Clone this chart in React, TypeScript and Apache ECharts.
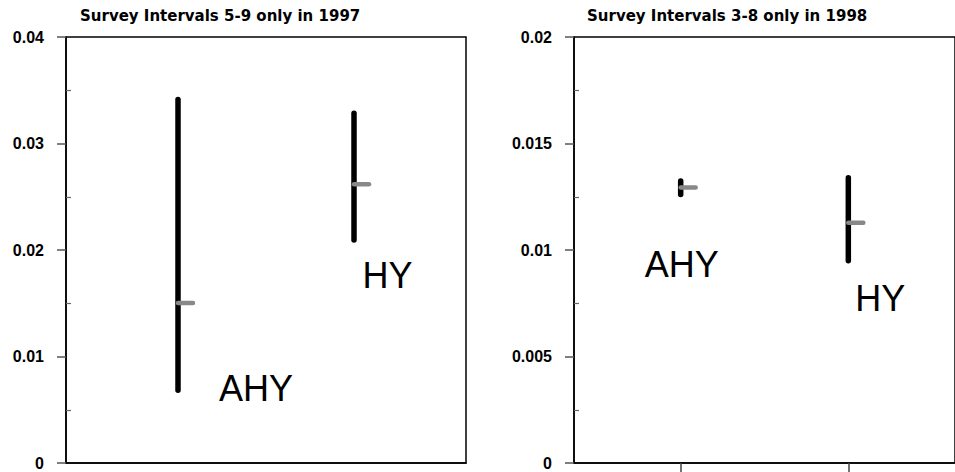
import React, { useEffect, useRef } from "react";
import * as echarts from "echarts";

// ---- data ----
const categories = ["AHY", "HY"];
const catPos = [1, 2];

// 1997 (survey intervals 5-9)
const low1997 = [0.00683, 0.02094];
const high1997 = [0.03414, 0.03283];
const mean1997 = [0.01502, 0.02617];

// 1998 (survey intervals 3-8)
const low1998 = [0.0126, 0.0095];
const high1998 = [0.01324, 0.01339];
const mean1998 = [0.01293, 0.01128];

// label anchors (data coordinates)
const labelX1997 = [1.443, 2.191];
const labelY1997 = [0.007, 0.0176];
const labelX1998 = [1.006, 2.19];
const labelY1998 = [0.00931, 0.0077];

const ticks1997 = ["0", "0.01", "0.02", "0.03", "0.04"];
const ticks1998 = ["0", "0.005", "0.01", "0.015", "0.02"];
const minor1997 = [0.005, 0.015, 0.025, 0.035];
const minor1998 = [0.0025, 0.0075, 0.0125, 0.0175];

const titles = ["Survey Intervals 5-9 only in 1997", "Survey Intervals 3-8 only in 1998"];

const xPad = 0.28 / 0.44;
const xMin = 1 - xPad;
const xMax = 2 + xPad;

const renderInterval = (params: any, api: any) => {
  const x = api.value(0);
  const lo = api.coord([x, api.value(1)]);
  const hi = api.coord([x, api.value(2)]);
  const m = api.coord([x, api.value(3)]);
  return {
    type: "group",
    children: [
      {
        type: "line",
        shape: { x1: lo[0], y1: lo[1], x2: hi[0], y2: hi[1] },
        style: { stroke: "#000", lineWidth: 5.5, lineCap: "round" },
      },
      {
        type: "line",
        shape: { x1: m[0], y1: m[1], x2: m[0] + 15, y2: m[1] },
        style: { stroke: "#888", lineWidth: 4.5, lineCap: "round" },
      },
    ],
  };
};

const renderLabel = (params: any, api: any) => {
  const p = api.coord([api.value(0), api.value(1)]);
  return {
    type: "text",
    x: p[0],
    y: p[1],
    style: {
      text: categories[params.dataIndex],
      fill: "#000",
      fontFamily: "Liberation Sans, Arial, sans-serif",
      fontSize: 36,
      align: "center",
      verticalAlign: "middle",
    },
  };
};

const tickFont = {
  fontFamily: "Liberation Sans, Arial, sans-serif",
  fontWeight: "bold" as const,
  fontSize: 16,
  color: "#000",
};

export default function App() {
  const ref = useRef<HTMLDivElement>(null);
  useEffect(() => {
    document.body.style.margin = "0";
    const chart = echarts.init(ref.current!, null, { renderer: "svg" });

    const mkX = (gridIndex: number, withTicks: boolean) => ({
      type: "value",
      gridIndex,
      min: xMin,
      max: xMax,
      axisLine: { show: true, onZero: false, lineStyle: { color: "#000", width: 1.5 } },
      axisTick: withTicks
        ? { show: true, customValues: catPos, length: 9, lineStyle: { color: "#444", width: 1.5 } }
        : { show: false },
      axisLabel: { show: false },
      splitLine: { show: false },
    });
    const mkY = (gridIndex: number, max: number, interval: number, labels: string[]) => ({
      type: "value",
      gridIndex,
      min: 0,
      max,
      interval,
      position: "left",
      axisLine: { show: true, onZero: false, lineStyle: { color: "#000", width: 1.5 } },
      axisTick: { show: true, length: 9, lineStyle: { color: "#555", width: 1.5 } },
      axisLabel: {
        ...tickFont,
        margin: 22,
        formatter: (v: number) => labels[Math.round(v / interval)],
      },
      splitLine: { show: false },
    });
    const mkMinorY = (gridIndex: number, max: number, vals: number[]) => ({
      type: "value",
      gridIndex,
      min: 0,
      max,
      position: "left",
      offset: 0,
      axisLine: { show: false },
      axisTick: {
        show: true,
        inside: true,
        customValues: vals,
        length: 5,
        lineStyle: { color: "#666", width: 1.2 },
      },
      axisLabel: { show: false },
      splitLine: { show: false },
    });

    const titleStyle = { fontFamily: "DejaVu Sans", fontWeight: "bold", fontSize: 15, color: "#000" };

    chart.setOption({
      animation: false,
      backgroundColor: "#fff",
      title: [
        { text: titles[0], left: 80, top: 8, padding: 0, textStyle: titleStyle },
        { text: titles[1], left: 587, top: 8, padding: 0, textStyle: titleStyle },
      ],
      grid: [
        { left: 66, top: 37, width: 400, height: 426, show: true, borderColor: "#000", borderWidth: 1.5, backgroundColor: "transparent" },
        { left: 574, top: 37, width: 389, height: 426, show: true, borderColor: "#000", borderWidth: 1.5, backgroundColor: "transparent" },
      ],
      xAxis: [mkX(0, false), mkX(1, true)],
      yAxis: [
        mkY(0, 0.04, 0.01, ticks1997),
        mkY(1, 0.02, 0.005, ticks1998),
        mkMinorY(0, 0.04, minor1997),
        mkMinorY(1, 0.02, minor1998),
      ],
      series: [
        {
          type: "custom",
          xAxisIndex: 0,
          yAxisIndex: 0,
          renderItem: renderInterval,
          data: categories.map((c, i) => [catPos[i], low1997[i], high1997[i], mean1997[i]]),
        },
        {
          type: "custom",
          xAxisIndex: 1,
          yAxisIndex: 1,
          renderItem: renderInterval,
          data: categories.map((c, i) => [catPos[i], low1998[i], high1998[i], mean1998[i]]),
        },
        {
          type: "custom",
          xAxisIndex: 0,
          yAxisIndex: 0,
          silent: true,
          renderItem: renderLabel,
          data: categories.map((c, i) => [labelX1997[i], labelY1997[i]]),
        },
        {
          type: "custom",
          xAxisIndex: 1,
          yAxisIndex: 1,
          silent: true,
          renderItem: renderLabel,
          data: categories.map((c, i) => [labelX1998[i], labelY1998[i]]),
        },
      ],
    });
    return () => chart.dispose();
  }, []);
  return <div ref={ref} style={{ width: 955, height: 472 }} />;
}
